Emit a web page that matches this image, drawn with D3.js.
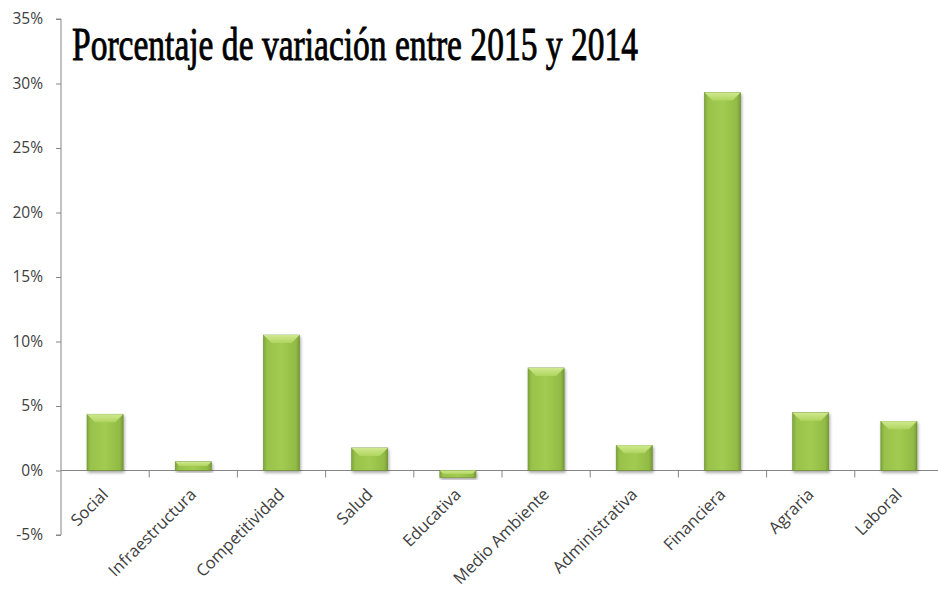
<!DOCTYPE html>
<html>
<head>
<meta charset="utf-8">
<script src="https://cdn.jsdelivr.net/npm/d3@7"></script>
<style>
  body { margin: 0; background: #fff; }
  svg { display: block; }
</style>
</head>
<body>
<script>
// data
const categories = ["Social", "Infraestructura", "Competitividad", "Salud", "Educativa",
  "Medio Ambiente", "Administrativa", "Financiera", "Agraria", "Laboral"];
const values = [4.36, 0.68, 10.5, 1.75, -0.55, 7.95, 1.95, 29.3, 4.48, 3.81];
const yTicks = [-5, 0, 5, 10, 15, 20, 25, 30, 35];
const title = "Porcentaje de variación entre 2015 y 2014";

function plot() {
  let width = 938, height = 597;

  let svg = d3.select("body").append("svg")
    .attr("width", width)
    .attr("height", height);

  // scales
  let x = d3.scaleBand().domain(categories).range([61, 943]).paddingInner(0.59).paddingOuter(0.295);
  let y = d3.scaleLinear().domain([-5, 35]).range([535, 19]);

  // gradients for the bevelled bars
  let defs = svg.append("defs");
  let g1 = defs.append("linearGradient").attr("id", "body").attr("x1", 0).attr("x2", 1).attr("y1", 0).attr("y2", 0);
  g1.append("stop").attr("offset", "0%").attr("stop-color", "#7fa63a");
  g1.append("stop").attr("offset", "10%").attr("stop-color", "#98c24a");
  g1.append("stop").attr("offset", "50%").attr("stop-color", "#a2cb52");
  g1.append("stop").attr("offset", "90%").attr("stop-color", "#92bb45");
  g1.append("stop").attr("offset", "100%").attr("stop-color", "#76993a");
  let g2 = defs.append("linearGradient").attr("id", "bevel").attr("x1", 0).attr("x2", 0).attr("y1", 0).attr("y2", 1);
  g2.append("stop").attr("offset", "0%").attr("stop-color", "#cfe98f");
  g2.append("stop").attr("offset", "100%").attr("stop-color", "#b0d45f");
  let f = defs.append("filter").attr("id", "shadow").attr("x", "-20%").attr("y", "-20%").attr("width", "140%").attr("height", "140%");
  f.append("feDropShadow").attr("dx", 1).attr("dy", 2).attr("stdDeviation", 1.5)
    .attr("flood-color", "#000").attr("flood-opacity", 0.35);

  // y axis
  let yAxis = svg.append("g")
    .attr("transform", "translate(61,0)")
    .call(d3.axisLeft(y).tickValues(yTicks).tickSize(5).tickPadding(13).tickFormat(d => d + "%"));
  yAxis.select(".domain").attr("stroke", "#868686").attr("d", "M-5," + y(-5) + "H0V" + y(35) + "H-5");
  yAxis.selectAll(".tick line").attr("stroke", "#868686");
  yAxis.selectAll(".tick text")
    .attr("fill", "#404040")
    .style("font-family", "'Open Sans', sans-serif")
    .style("font-size", "15.5px");

  // x axis at zero
  let xAxis = svg.append("g")
    .attr("transform", "translate(0," + y(0) + ")");
  xAxis.append("line").attr("x1", 61).attr("x2", 943).attr("stroke", "#868686");
  let step = x.step();
  xAxis.selectAll("line.tk")
    .data(categories)
    .join("line")
    .attr("class", "tk")
    .attr("x1", (d, i) => 61 + step * (i + 1))
    .attr("x2", (d, i) => 61 + step * (i + 1))
    .attr("y1", 0).attr("y2", 7)
    .attr("stroke", "#868686");

  // bars
  let bars = svg.selectAll("g.bar")
    .data(categories.map((c, i) => ({c: c, v: values[i]})))
    .join("g")
    .attr("class", "bar")
    .attr("filter", "url(#shadow)");

  bars.append("rect")
    .attr("x", d => x(d.c))
    .attr("y", d => y(Math.max(0, d.v)))
    .attr("width", x.bandwidth())
    .attr("height", d => Math.abs(y(d.v) - y(0)))
    .attr("fill", "url(#body)")
    .attr("stroke", "#6f9034")
    .attr("stroke-width", 0.6);

  // top bevel
  bars.append("path")
    .attr("d", d => {
      let x0 = x(d.c), w = x.bandwidth();
      let top = y(Math.max(0, d.v));
      let h = Math.abs(y(d.v) - y(0));
      let b = Math.min(8, h / 2);
      return "M" + x0 + "," + top + "H" + (x0 + w) + "L" + (x0 + w - b) + "," + (top + b) +
        "H" + (x0 + b) + "Z";
    })
    .attr("fill", "url(#bevel)");

  // category labels
  svg.selectAll("text.cat")
    .data(categories)
    .join("text")
    .attr("class", "cat")
    .attr("transform", d => "translate(" + (x(d) + x.bandwidth() / 2 + 4) + "," + (y(0) + 25) + ") rotate(-45)")
    .attr("text-anchor", "end")
    .attr("fill", "#404040")
    .style("font-family", "'Open Sans', sans-serif")
    .style("font-size", "16.5px")
    .text(d => d);

  // title
  svg.append("text")
    .attr("x", 72)
    .attr("y", 60)
    .attr("textLength", 566)
    .attr("lengthAdjust", "spacingAndGlyphs")
    .style("font-family", "'Liberation Serif', serif")
    .style("font-size", "46px")
    .attr("fill", "#000")
    .attr("stroke", "#000")
    .attr("stroke-width", 0.9)
    .text(title);
}

plot();
</script>
</body>
</html>
